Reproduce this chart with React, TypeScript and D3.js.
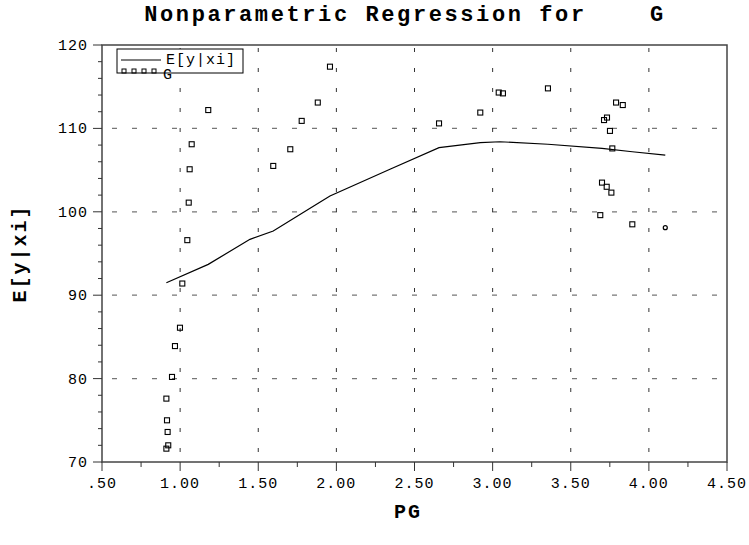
import React from "react";
import * as d3 from "d3";

const title = "Nonparametric Regression for    G";
const xTitle = "PG";
const yTitle = "E[y|xi]";
const legendLineLabel = "E[y|xi]";
const legendPointLabel = "G";

const xTicks = [0.5, 1.0, 1.5, 2.0, 2.5, 3.0, 3.5, 4.0, 4.5];
const xTickLabels = [".50", "1.00", "1.50", "2.00", "2.50", "3.00", "3.50", "4.00", "4.50"];
const yTicks = [70, 80, 90, 100, 110, 120];
const yTickLabels = ["70", "80", "90", "100", "110", "120"];

const pgValues = [0.912, 0.924, 0.92, 0.916, 0.912, 0.948, 0.967, 0.999, 1.014, 1.046, 1.055, 1.061, 1.074, 1.18,
  1.596, 1.705, 1.778, 1.881, 1.959, 2.657, 2.921, 3.039, 3.066, 3.354, 3.689, 3.713, 3.732, 3.751, 3.766, 3.79,
  3.833, 3.7, 3.73, 3.76, 3.894];
const gValues = [71.6, 72.0, 73.6, 75.0, 77.6, 80.2, 83.9, 86.1, 91.4, 96.6, 101.1, 105.1, 108.1, 112.2,
  105.5, 107.5, 110.9, 113.1, 117.4, 110.6, 111.9, 114.3, 114.2, 114.8, 99.6, 111.0, 111.3, 109.7, 107.6, 113.1,
  112.8, 103.5, 103.0, 102.3, 98.5];
const extraPoint = [4.105, 98.1];

const curveX = [0.912, 1.18, 1.447, 1.596, 1.881, 1.959, 2.343, 2.657, 2.921, 3.047, 3.354, 3.7, 3.894, 4.105];
const curveY = [91.5, 93.7, 96.7, 97.7, 101.0, 101.9, 105.1, 107.7, 108.3, 108.4, 108.1, 107.6, 107.2, 106.8];

const W = 749, H = 545;
const L = 102, R = 727, T = 45, B = 462;
const font = "'Liberation Mono', 'DejaVu Sans Mono', monospace";

export default function App() {
  const x = d3.scaleLinear().domain([0.5, 4.5]).range([L, R]);
  const y = d3.scaleLinear().domain([70, 120]).range([B, T]);
  const line = d3.line<number>().x((_, i) => x(curveX[i])).y((_, i) => y(curveY[i]));
  const xMinor = d3.range(0.5, 4.5001, 0.25);
  const yMinor = d3.range(70, 120.001, 2);
  const gridX = xTicks.slice(1, -1);
  const gridY = yTicks.slice(1, -1);
  return (
    <svg width={W} height={H} style={{ position: "absolute", left: 0, top: 0, background: "#fff" }}>
      <text x={405} y={21} textAnchor="middle" fontFamily={font} fontWeight="bold" fontSize={22} letterSpacing={2.6}
        xmlSpace="preserve" style={{ whiteSpace: "pre" }}>{title}</text>
      {gridY.map((v) => (
        <line key={"gy" + v} x1={L} x2={R} y1={y(v)} y2={y(v)} stroke="#777" strokeWidth={1.2} strokeDasharray="5,15" strokeDashoffset={-10} />
      ))}
      {gridX.map((v) => (
        <line key={"gx" + v} x1={x(v)} x2={x(v)} y1={B} y2={T} stroke="#333" strokeWidth={1} strokeDasharray="4,16" strokeDashoffset={-10} />
      ))}
      <rect x={L} y={T} width={R - L} height={B - T} fill="none" stroke="#444" strokeWidth={1.5} />
      {xMinor.map((v, i) => (
        <line key={"xt" + i} x1={x(v)} x2={x(v)} y1={B} y2={B + (i % 2 === 0 ? 9 : 5)} stroke="#333" strokeWidth={1} />
      ))}
      {yMinor.map((v, i) => (
        <line key={"yt" + i} x1={L} x2={L - (i % 5 === 0 ? 9 : 4)} y1={y(v)} y2={y(v)} stroke="#333" strokeWidth={1} />
      ))}
      {xTicks.map((v, i) => (
        <text key={"xl" + i} x={x(v)} y={B + 26} textAnchor="middle" fontFamily={font} fontSize={15} letterSpacing={1}>{xTickLabels[i]}</text>
      ))}
      {yTicks.map((v, i) => (
        <text key={"yl" + i} x={L - 14} y={y(v) + 5} textAnchor="end" fontFamily={font} fontSize={15} letterSpacing={1}>{yTickLabels[i]}</text>
      ))}
      <text x={408} y={518} textAnchor="middle" fontFamily={font} fontWeight="bold" fontSize={20} letterSpacing={2}>{xTitle}</text>
      <text transform={`translate(26,${(T + B) / 2}) rotate(-90)`} textAnchor="middle" fontFamily={font} fontWeight="bold" fontSize={20} letterSpacing={2}>{yTitle}</text>
      <path d={line(curveX) || ""} fill="none" stroke="#000" strokeWidth={1.2} />
      {pgValues.map((v, i) => (
        <rect key={"p" + i} x={x(v) - 2.5} y={y(gValues[i]) - 2.5} width={5} height={5} fill="none" stroke="#000" strokeWidth={1.1} />
      ))}
      <circle cx={x(extraPoint[0])} cy={y(extraPoint[1])} r={2} fill="none" stroke="#000" strokeWidth={1.2} />
      <g>
        <rect x={117} y={49} width={126} height={24} fill="#fff" stroke="#000" strokeWidth={1} />
        <line x1={121} x2={161} y1={60} y2={60} stroke="#000" strokeWidth={1} />
        <text x={166} y={64} fontFamily={font} fontSize={15} letterSpacing={1}>{legendLineLabel}</text>
        {[124, 134, 144, 154].map((cx) => (
          <rect key={cx} x={cx - 2} y={69} width={4} height={4} fill="none" stroke="#000" strokeWidth={1} />
        ))}
        <text x={163} y={79} fontFamily={font} fontSize={15} letterSpacing={1}>{legendPointLabel}</text>
      </g>
    </svg>
  );
}
